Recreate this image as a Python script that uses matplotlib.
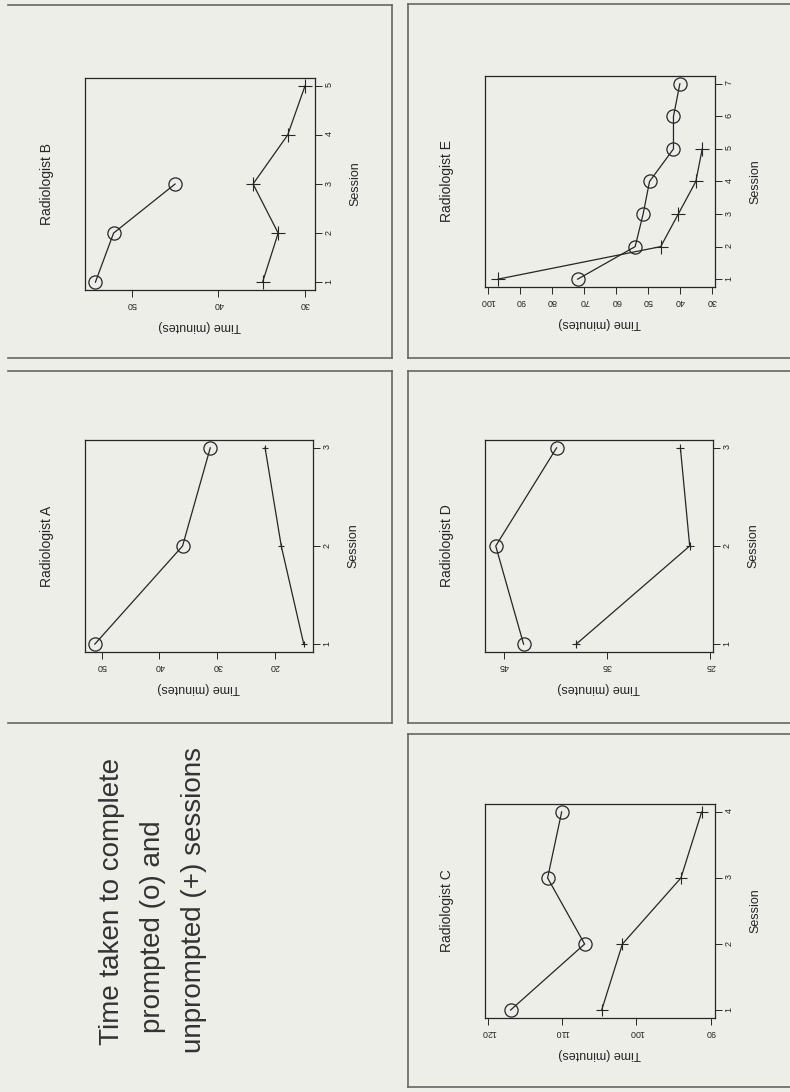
import numpy as np
import matplotlib
matplotlib.use("Agg")
import matplotlib.pyplot as plt
from matplotlib.lines import Line2D

plt.rcParams['font.family'] = ['Liberation Sans', 'DejaVu Sans']

# minutes per session, prompted (o) and unprompted (+)
a_prompted = [51.2, 36.0, 31.2]
a_unprompted = [15.0, 18.9, 21.7]
b_prompted = [54.2, 52.1, 45.0]
b_unprompted = [34.9, 33.1, 36.0, 32.0, 30.0]
c_prompted = [117.0, 107.0, 112.0, 110.1]
c_unprompted = [104.7, 101.9, 94.0, 91.2]
d_prompted = [43.1, 45.8, 39.9]
d_unprompted = [38.0, 27.0, 27.9]
e_prompted = [72.0, 54.0, 51.5, 49.5, 42.0, 42.0, 40.0]
e_unprompted = [97.0, 46.0, 40.5, 35.0, 33.0]

a_ticks = [20, 30, 40, 50]
b_ticks = [30, 40, 50]
c_ticks = [90, 100, 110, 120]
d_ticks = [25, 35, 45]
e_ticks = [30, 40, 50, 60, 70, 80, 90, 100]

title_lines = ["Time taken to complete", "prompted (o) and", "unprompted (+) sessions"]

W, H = 790, 1092
paper = '#eceee7'
ink = '#262626'
frame_col = '#666666'

fig = plt.figure(figsize=(W / 100, H / 100), dpi=100, facecolor=paper)


def px_rect(x0, y0, x1, y1):
    return [x0 / W, 1 - y1 / H, (x1 - x0) / W, (y1 - y0) / H]


def hline(y, x0, x1):
    fig.add_artist(Line2D([x0 / W, x1 / W], [1 - y / H, 1 - y / H],
                          transform=fig.transFigure, color=frame_col, lw=1.2))


def vline(x, y0, y1):
    fig.add_artist(Line2D([x / W, x / W], [1 - y0 / H, 1 - y1 / H],
                          transform=fig.transFigure, color=frame_col, lw=1.2))


# slide frames (page is printed sideways)
hline(5, 8, 392); hline(358, 8, 392); vline(392, 5, 358)
hline(4, 408, 790); hline(358, 408, 790); vline(408, 4, 358)
hline(371, 8, 392); hline(723, 8, 392); vline(392, 371, 723)
hline(371, 408, 790); hline(723, 408, 790); vline(408, 371, 723)
hline(734, 408, 790); hline(1087, 408, 790); vline(408, 734, 1087)


def panel(box, name, prompted, unprompted, ticks, tlim, plus_size=10):
    ax = fig.add_axes(px_rect(*box))
    ax.set_facecolor('none')
    sp = np.arange(1, len(prompted) + 1)
    su = np.arange(1, len(unprompted) + 1)
    ax.plot(prompted, sp, color=ink, lw=0.9, marker='o', ms=9.5,
            mfc='none', mec=ink, mew=0.9)
    ax.plot(unprompted, su, color=ink, lw=0.9, marker='+', ms=plus_size,
            mec=ink, mew=0.8)
    n = max(len(prompted), len(unprompted))
    pad = 0.04 * (n - 1)
    ax.set_ylim(1 - pad, n + pad)
    ax.set_xlim(*tlim)
    ax.set_xticks(ticks)
    ax.set_yticks(np.arange(1, n + 1))
    ax.yaxis.tick_right()
    ax.tick_params(labelsize=6.5, length=5, width=0.7, pad=2, colors=ink)
    ax.tick_params(axis='x', labelrotation=180)
    ax.tick_params(axis='y', labelrotation=90)
    for s in ax.spines.values():
        s.set_color(ink)
        s.set_linewidth(0.9)
    bw = box[2] - box[0]
    bh = box[3] - box[1]
    ax.text(-38 / bw, 0.5, name, transform=ax.transAxes, rotation=90,
            ha='center', va='center', fontsize=10, color=ink)
    ax.text(1 + 40 / bw, 0.5, 'Session', transform=ax.transAxes, rotation=90,
            ha='center', va='center', fontsize=9, color=ink)
    ax.text(0.5, -36 / bh, 'Time (minutes)', transform=ax.transAxes,
            rotation=180, ha='center', va='center', fontsize=9, color=ink)
    return ax


panel((85, 78, 315, 290), 'Radiologist B', b_prompted, b_unprompted, b_ticks, (55.4, 28.85))
panel((485, 76, 715, 287), 'Radiologist E', e_prompted, e_unprompted, e_ticks, (101, 29))
panel((85, 440, 313, 652), 'Radiologist A', a_prompted, a_unprompted, a_ticks, (52.9, 13.4), plus_size=5)
panel((485, 440, 713, 652), 'Radiologist D', d_prompted, d_unprompted, d_ticks, (46.84, 24.74), plus_size=6)
panel((485, 804, 715, 1018), 'Radiologist C', c_prompted, c_unprompted, c_ticks, (120.45, 89.4), plus_size=9)

# caption block, reading bottom to top
starts = [(119, 1045), (160, 1033), (201, 1053)]
for (bx, by), line in zip(starts, title_lines):
    fig.text(bx / W, 1 - by / H, line, rotation=90, rotation_mode='anchor',
             ha='left', va='baseline', fontsize=20, color='#333333')

fig.savefig('out.png', dpi=100, facecolor=paper)
